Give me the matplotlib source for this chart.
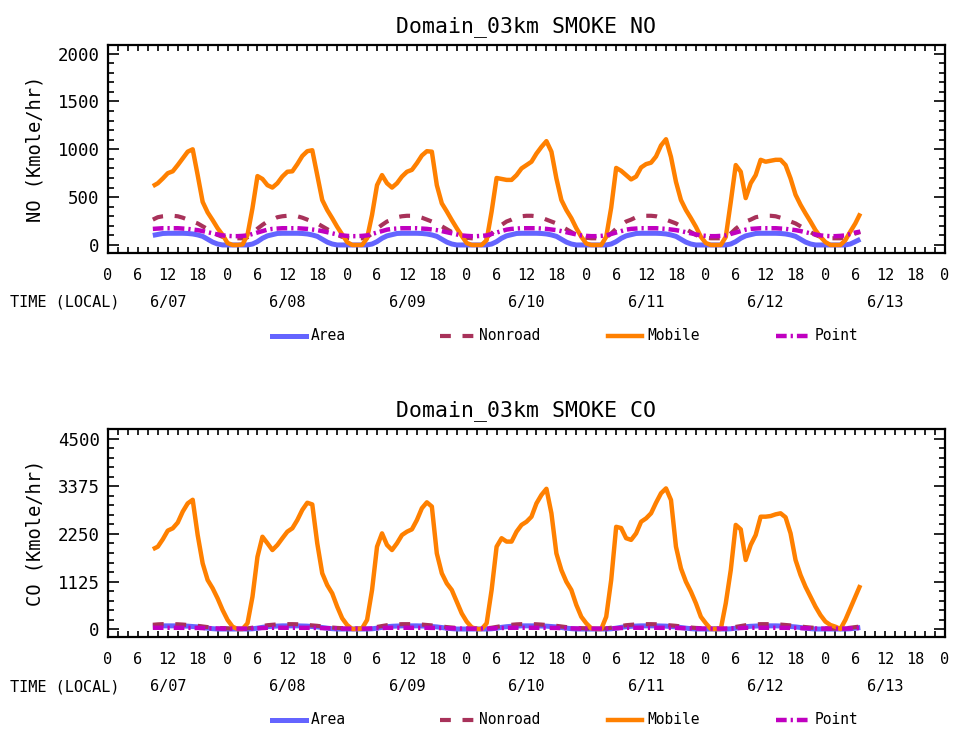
"""
Hourly SMOKE emission totals for the 3 km domain, by source sector.

Two stacked panels: NO and CO in Kmole/hr against local time,
6/07 09:00 through 6/13 07:00.
"""
import numpy as np
import matplotlib
matplotlib.use('Agg')
import matplotlib.pyplot as plt
from matplotlib.lines import Line2D
from matplotlib.transforms import blended_transform_factory
from matplotlib.ticker import MultipleLocator, FixedLocator

FONT = 'DejaVu Sans Mono'

# hours since 6/07 00:00 local
HOURS = np.arange(9, 152)

DAYS        = ['6/07', '6/08', '6/09', '6/10', '6/11', '6/12', '6/13']
HOUR_LABELS = ['0', '6', '12', '18'] * 7 + ['0']
SECTORS     = ['Area', 'Nonroad', 'Mobile', 'Point']

# ---------------------------------------------------------------------------
# NO (Kmole/hr) -- one row per local day
# ---------------------------------------------------------------------------
NO_AREA = [
    100, 110, 120, 122, 122, 122, 122, 120, 115, 105, 90, 60, 30, 10, 0,
    0, 0, 0, 0, 0, 10, 35, 70, 95, 108, 120, 122, 122, 122, 122, 120, 115, 105, 90, 60, 30, 10, 0, 0,
    0, 0, 0, 0, 0, 10, 35, 70, 95, 108, 120, 122, 122, 122, 122, 120, 115, 105, 90, 60, 30, 10, 0, 0,
    0, 0, 0, 0, 0, 10, 35, 70, 95, 108, 120, 122, 122, 122, 122, 120, 115, 105, 90, 60, 30, 10, 0, 0,
    0, 0, 0, 0, 0, 10, 35, 70, 95, 108, 120, 122, 122, 122, 122, 120, 115, 105, 90, 60, 30, 10, 0, 0,
    0, 0, 0, 0, 0, 10, 35, 70, 95, 108, 120, 122, 122, 122, 122, 120, 115, 105, 90, 60, 30, 10, 0, 0,
    0, 0, 0, 0, 0, 10, 35, 60,
]
NO_NONROAD = [
    265, 290, 300, 305, 305, 300, 285, 265, 245, 225, 195, 165, 135, 105, 85,
    75, 70, 70, 70, 80, 120, 170, 210, 245, 265, 290, 300, 305, 305, 300, 285, 265, 245, 225, 195, 165, 135, 105, 85,
    75, 70, 70, 70, 80, 120, 170, 210, 245, 265, 290, 300, 305, 305, 300, 285, 265, 245, 225, 195, 165, 135, 105, 85,
    75, 70, 70, 70, 80, 120, 170, 210, 245, 265, 290, 300, 305, 305, 300, 285, 265, 245, 225, 195, 165, 135, 105, 85,
    75, 70, 70, 70, 80, 120, 170, 210, 245, 265, 290, 300, 305, 305, 300, 285, 265, 245, 225, 195, 165, 135, 105, 85,
    75, 70, 70, 70, 80, 120, 170, 210, 245, 265, 290, 300, 305, 305, 300, 285, 265, 245, 225, 195, 165, 135, 105, 85,
    75, 70, 70, 70, 80, 100, 120, 135,
]
NO_MOBILE = [
    615, 645, 695, 750, 770, 835, 905, 975, 1000, 730, 450, 340, 260, 175, 105,
    20, 0, 0, 5, 105, 385, 720, 690, 625, 600, 645, 715, 765, 770, 845, 930, 980, 990, 730, 470, 365, 280, 190, 110,
    30, 0, 0, 0, 70, 315, 625, 730, 645, 600, 645, 715, 765, 785, 855, 935, 980, 975, 625, 435, 350, 260, 175, 95,
    20, 0, 0, 0, 50, 350, 700, 690, 680, 680, 730, 800, 835, 870, 955, 1025, 1085, 975, 695, 470, 365, 280, 175, 85,
    15, 0, 0, 0, 85, 390, 805, 775, 730, 685, 715, 810, 845, 860, 925, 1040, 1105, 920, 660, 470, 365, 280, 190, 85,
    20, 0, 0, 0, 85, 450, 835, 765, 490, 645, 730, 890, 870, 880, 890, 890, 835, 695, 525, 420, 330, 245, 155, 85,
    30, 0, 0, 0, 50, 140, 225, 330,
]
NO_POINT = [
    168, 172, 175, 175, 175, 175, 172, 168, 162, 155, 145, 133, 122, 110, 100,
    95, 92, 92, 95, 100, 115, 130, 145, 160, 168, 172, 175, 175, 175, 175, 172, 168, 162, 155, 145, 133, 122, 110, 100,
    95, 92, 92, 95, 100, 115, 130, 145, 160, 168, 172, 175, 175, 175, 175, 172, 168, 162, 155, 145, 133, 122, 110, 100,
    95, 92, 92, 95, 100, 115, 130, 145, 160, 168, 172, 175, 175, 175, 175, 172, 168, 162, 155, 145, 133, 122, 110, 100,
    95, 92, 92, 95, 100, 115, 130, 145, 160, 168, 172, 175, 175, 175, 175, 172, 168, 162, 155, 145, 133, 122, 110, 100,
    95, 92, 92, 95, 100, 115, 130, 145, 160, 168, 172, 175, 175, 175, 175, 172, 168, 162, 155, 145, 133, 122, 110, 100,
    95, 92, 92, 95, 100, 115, 130, 140,
]

# ---------------------------------------------------------------------------
# CO (Kmole/hr)
# ---------------------------------------------------------------------------
CO_AREA = [
    65, 70, 75, 75, 75, 75, 72, 68, 60, 50, 35, 20, 8, 0, 0,
    0, 0, 0, 0, 0, 5, 20, 40, 55, 65, 70, 75, 75, 75, 75, 72, 68, 60, 50, 35, 20, 8, 0, 0,
    0, 0, 0, 0, 0, 5, 20, 40, 55, 65, 70, 75, 75, 75, 75, 72, 68, 60, 50, 35, 20, 8, 0, 0,
    0, 0, 0, 0, 0, 5, 20, 40, 55, 65, 70, 75, 75, 75, 75, 72, 68, 60, 50, 35, 20, 8, 0, 0,
    0, 0, 0, 0, 0, 5, 20, 40, 55, 65, 70, 75, 75, 75, 75, 72, 68, 60, 50, 35, 20, 8, 0, 0,
    0, 0, 0, 0, 0, 5, 20, 40, 55, 65, 70, 75, 75, 75, 75, 72, 68, 60, 50, 35, 20, 8, 0, 0,
    0, 0, 0, 0, 0, 5, 20, 35,
]
CO_NONROAD = [
    100, 110, 115, 115, 115, 112, 105, 95, 85, 75, 60, 45, 35, 25, 20,
    15, 10, 10, 10, 15, 30, 50, 70, 90, 100, 110, 115, 115, 115, 112, 105, 95, 85, 75, 60, 45, 35, 25, 20,
    15, 10, 10, 10, 15, 30, 50, 70, 90, 100, 110, 115, 115, 115, 112, 105, 95, 85, 75, 60, 45, 35, 25, 20,
    15, 10, 10, 10, 15, 30, 50, 70, 90, 100, 110, 115, 115, 115, 112, 105, 95, 85, 75, 60, 45, 35, 25, 20,
    15, 10, 10, 10, 15, 30, 50, 70, 90, 100, 110, 115, 115, 115, 112, 105, 95, 85, 75, 60, 45, 35, 25, 20,
    15, 10, 10, 10, 15, 30, 50, 70, 90, 100, 110, 115, 115, 115, 112, 105, 95, 85, 75, 60, 45, 35, 25, 20,
    15, 10, 10, 10, 15, 30, 45, 60,
]
CO_MOBILE = [
    1890, 1950, 2125, 2330, 2385, 2520, 2780, 2975, 3060, 2225, 1555, 1160, 965, 725, 450,
    215, 55, 0, 0, 135, 765, 1710, 2185, 2030, 1870, 1990, 2150, 2305, 2385, 2580, 2820, 2990, 2950, 2030, 1320, 1040, 845, 530, 255,
    95, 0, 0, 15, 215, 925, 1950, 2265, 1990, 1870, 2030, 2225, 2305, 2360, 2580, 2860, 3000, 2900, 1790, 1320, 1080, 925, 645, 370,
    175, 40, 0, 0, 135, 925, 1950, 2150, 2070, 2070, 2305, 2465, 2540, 2660, 2975, 3175, 3320, 2740, 1790, 1395, 1120, 925, 570, 290,
    135, 15, 0, 0, 290, 1160, 2420, 2390, 2150, 2110, 2265, 2540, 2620, 2740, 2990, 3215, 3330, 3055, 1950, 1435, 1120, 885, 610, 290,
    135, 0, 0, 0, 610, 1395, 2465, 2360, 1635, 1990, 2225, 2660, 2660, 2675, 2715, 2740, 2645, 2265, 1635, 1280, 1000, 765, 530, 330,
    175, 95, 55, 0, 215, 490, 765, 1040,
]
CO_POINT = [
    30, 30, 30, 30, 30, 30, 30, 28, 27, 25, 22, 18, 15, 12, 10,
    10, 8, 8, 8, 10, 15, 20, 25, 28, 30, 30, 30, 30, 30, 30, 30, 28, 27, 25, 22, 18, 15, 12, 10,
    10, 8, 8, 8, 10, 15, 20, 25, 28, 30, 30, 30, 30, 30, 30, 30, 28, 27, 25, 22, 18, 15, 12, 10,
    10, 8, 8, 8, 10, 15, 20, 25, 28, 30, 30, 30, 30, 30, 30, 30, 28, 27, 25, 22, 18, 15, 12, 10,
    10, 8, 8, 8, 10, 15, 20, 25, 28, 30, 30, 30, 30, 30, 30, 30, 28, 27, 25, 22, 18, 15, 12, 10,
    10, 8, 8, 8, 10, 15, 20, 25, 28, 30, 30, 30, 30, 30, 30, 30, 28, 27, 25, 22, 18, 15, 12, 10,
    10, 8, 8, 8, 10, 15, 20, 25,
]

STYLE = {
    'Area':    dict(color='#6464ff', lw=3.6, ls='-'),
    'Nonroad': dict(color='#a8325a', lw=3.0, ls=(0, (2.6, 2.8))),
    'Mobile':  dict(color='#ff8000', lw=3.2, ls='-'),
    'Point':   dict(color='#c000c0', lw=3.2, ls=(0, (2.4, 0.9, 0.5, 0.9))),
}

W, H = 958, 731
AX_LEFT, AX_RIGHT = 108, 945


def fig_box(top_px, bottom_px):
    return [AX_LEFT / W, 1 - bottom_px / H,
            (AX_RIGHT - AX_LEFT) / W, (bottom_px - top_px) / H]


# ---------------------------------------------------------------------------
# Panel drawing
# ---------------------------------------------------------------------------
def draw_panel(fig, box, series, yticks, ylim, title, ylabel):
    ax = fig.add_axes(box)
    for name in SECTORS:
        ax.plot(HOURS, series[name], solid_capstyle='butt', **STYLE[name])

    ax.set_xlim(0, 168)
    ax.set_ylim(*ylim)

    ax.xaxis.set_major_locator(FixedLocator(np.arange(0, 169, 6)))
    ax.xaxis.set_minor_locator(MultipleLocator(2))
    ax.set_xticklabels(HOUR_LABELS)
    ax.yaxis.set_major_locator(FixedLocator(yticks))
    step = (yticks[1] - yticks[0]) / 5
    ax.yaxis.set_minor_locator(FixedLocator(np.arange(yticks[0], yticks[-1] + 1, step)))
    ax.set_yticklabels([f'{t:g}' for t in yticks])

    ax.tick_params(axis='both', which='both', direction='in',
                   top=True, right=True, width=1.2, colors='black')
    ax.tick_params(axis='x', which='both', length=4.5, pad=11, labelsize=11)
    ax.tick_params(axis='y', which='major', length=8, pad=6, labelsize=12.5)
    ax.tick_params(axis='y', which='minor', length=4)
    for lab in ax.get_xticklabels() + ax.get_yticklabels():
        lab.set_family(FONT)
    for sp in ax.spines.values():
        sp.set_linewidth(1.6)

    ax.set_title(title, fontsize=15.5, family=FONT, pad=9)
    ax.set_ylabel(ylabel, fontsize=13.5, family=FONT)
    ax.yaxis.set_label_coords(-0.076, 0.5)

    # day labels centred on local noon
    trans = blended_transform_factory(ax.transData, ax.transAxes)
    for i, day in enumerate(DAYS):
        ax.text(12 + 24 * i, -0.236, day, transform=trans,
                ha='center', va='center', fontsize=11, family=FONT)
    return ax


def draw_legend(fig, y_px):
    y = 1 - y_px / H
    for i, name in enumerate(SECTORS):
        x0 = 272 + 168 * i
        fig.add_artist(Line2D([x0 / W, (x0 + 34) / W], [y, y],
                              transform=fig.transFigure, **STYLE[name]))
        fig.text((x0 + 39) / W, y, name, ha='left', va='center',
                 fontsize=10.5, family=FONT)


# ---------------------------------------------------------------------------
fig = plt.figure(figsize=(W / 100, H / 100), dpi=100)

no_series = {'Area': NO_AREA, 'Nonroad': NO_NONROAD,
             'Mobile': NO_MOBILE, 'Point': NO_POINT}
co_series = {'Area': CO_AREA, 'Nonroad': CO_NONROAD,
             'Mobile': CO_MOBILE, 'Point': CO_POINT}

draw_panel(fig, fig_box(45, 253), no_series, [0, 500, 1000, 1500, 2000],
           (-84, 2090), 'Domain_03km SMOKE NO', 'NO (Kmole/hr)')
draw_panel(fig, fig_box(429, 637), co_series, [0, 1125, 2250, 3375, 4500],
           (-189, 4736), 'Domain_03km SMOKE CO', 'CO (Kmole/hr)')

for y_px in (302, 687):
    fig.text(10 / W, 1 - y_px / H, 'TIME (LOCAL)', ha='left', va='center',
             fontsize=11, family=FONT)

draw_legend(fig, 336)
draw_legend(fig, 720)

fig.savefig('out.png', dpi=100)
